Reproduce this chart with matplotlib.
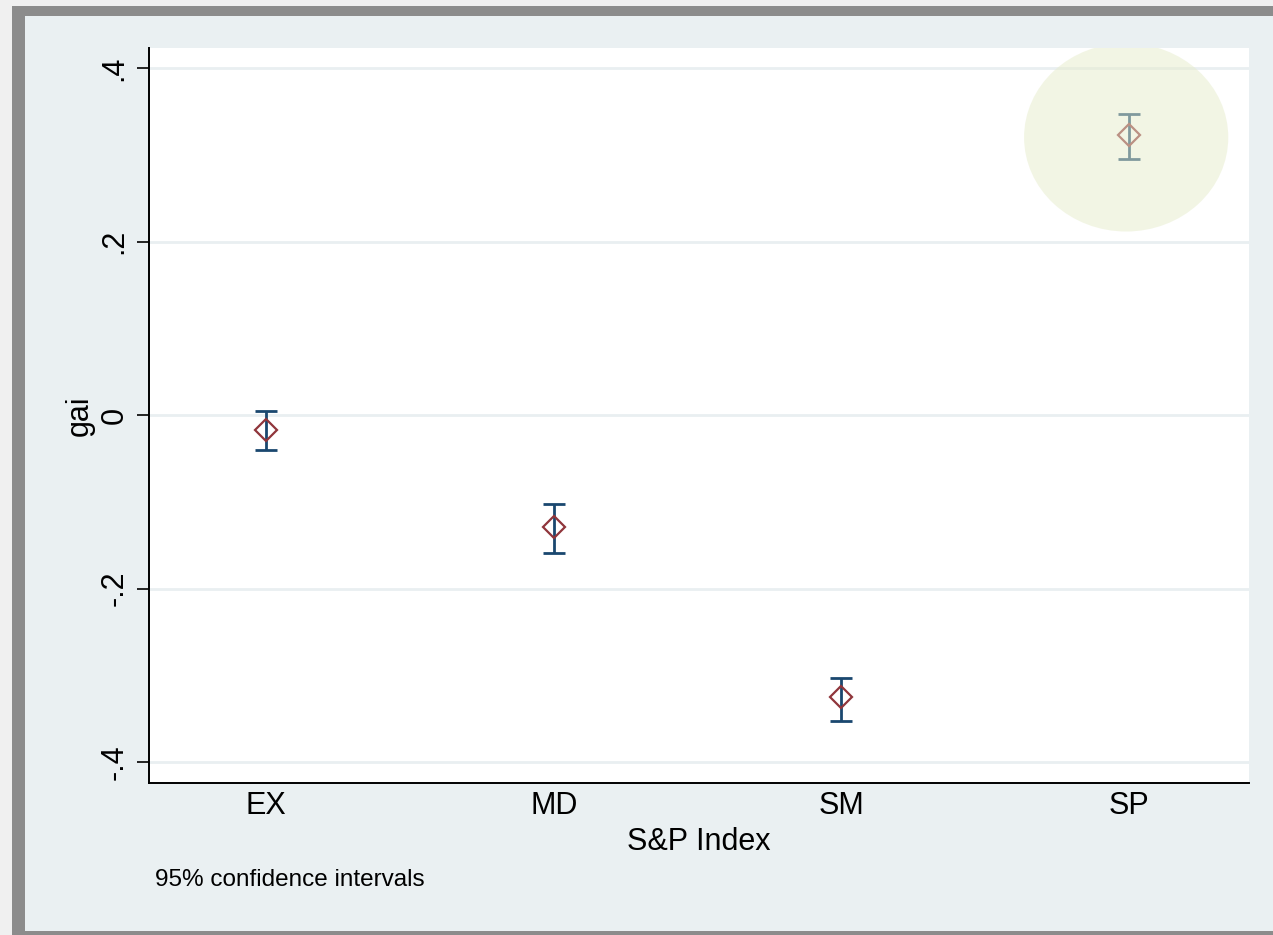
import numpy as np
import matplotlib
matplotlib.use("Agg")
import matplotlib.pyplot as plt
from matplotlib.patches import Rectangle, Ellipse

plt.rcParams["font.family"] = ["Liberation Sans", "DejaVu Sans"]

# data
groups = ["EX", "MD", "SM", "SP"]
means = [-0.017, -0.129, -0.325, 0.323]
ci_low = [-0.040, -0.159, -0.353, 0.295]
ci_high = [0.005, -0.103, -0.303, 0.347]
yticks = [-0.4, -0.2, 0.0, 0.2, 0.4]
ytick_labels = ["-.4", "-.2", "0", ".2", ".4"]

W, H = 1273, 935
fig = plt.figure(figsize=(W / 100, H / 100), dpi=100, facecolor="#f0f0f0")

# window frame + stata background
fig.patches.append(Rectangle((12 / W, 0), 1, (H - 6) / H, transform=fig.transFigure,
                             facecolor="#8c8c8c", edgecolor="none", zorder=-3))
fig.patches.append(Rectangle((25 / W, 4 / H), 1, (H - 20) / H, transform=fig.transFigure,
                             facecolor="#eaf0f2", edgecolor="none", zorder=-2))

ax = fig.add_axes([149 / W, (H - 783) / H, 1100 / W, 735 / H])
ax.set_facecolor("white")

x = np.arange(1, len(groups) + 1)
m = np.array(means)
lo = np.array(ci_low)
hi = np.array(ci_high)

for yt in yticks:
    ax.axhline(yt, color="#e9eff1", lw=2, zorder=0)

ax.errorbar(x, m, yerr=[m - lo, hi - m], fmt="none", ecolor="#1a476f",
            elinewidth=2, capsize=8, capthick=2, zorder=2)
ax.plot(x, m, "D", ms=11, mfc="none", mec="#90353b", mew=1.6, zorder=3)

# highlight around SP
ax.add_patch(Ellipse((x[-1] - 0.01, 0.32), 0.71, 0.217, facecolor="#e6eccb",
                     edgecolor="none", alpha=0.5, zorder=4))

ax.set_xlim(0.593, 4.417)
ax.set_ylim(-0.424, 0.423)
ax.set_xticks(x)
ax.set_xticklabels(groups)
ax.set_yticks(yticks)
ax.set_yticklabels(ytick_labels, rotation=90, va="center")
ax.tick_params(axis="x", length=0, pad=6, labelsize=22)
ax.tick_params(axis="y", length=9, width=1.2, pad=5, labelsize=22)

for s in ["top", "right"]:
    ax.spines[s].set_visible(False)
for s in ["left", "bottom"]:
    ax.spines[s].set_linewidth(1.4)
    ax.spines[s].set_color("black")

ax.set_xlabel("S&P Index", fontsize=22, labelpad=4)
ax.set_ylabel("gai", fontsize=22)
ax.yaxis.set_label_coords(-0.0495, 0.5)

fig.text(155 / W, (H - 880) / H, "95% confidence intervals", fontsize=17.5,
         va="center", ha="left")

fig.savefig("out.png", dpi=100, facecolor=fig.get_facecolor())
